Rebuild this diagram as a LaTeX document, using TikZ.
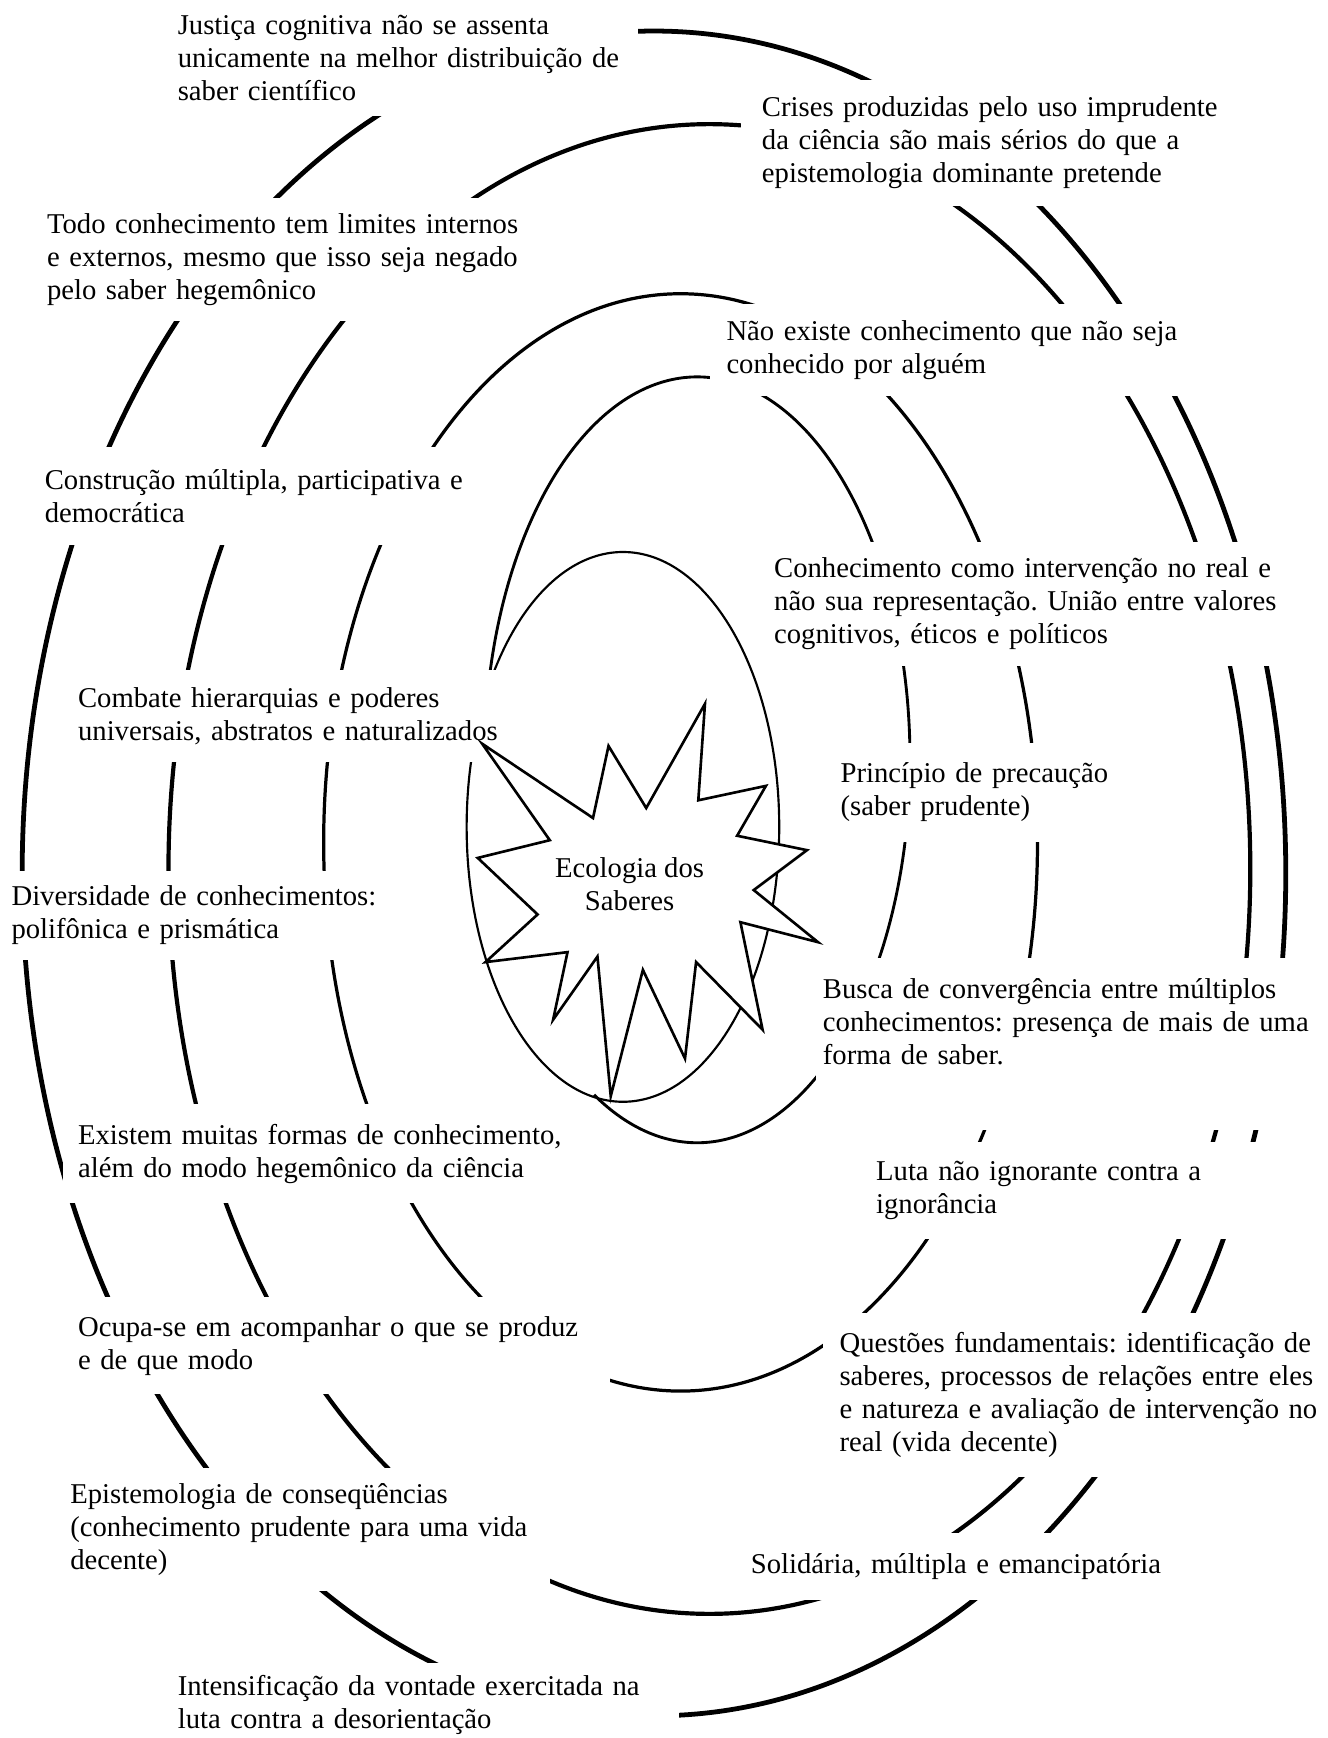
\documentclass[tikz,border=0pt]{standalone}
\usepackage{fontspec}
\setmainfont{Liberation Serif}
\frenchspacing
\begin{document}
\begin{tikzpicture}[x=0.4638pt,y=-0.4638pt,
  font=\fontsize{12}{13.8}\selectfont,
  ring/.style={line width=#1},
  txtbox/.style={fill=white, align=left, anchor=north west, inner ysep=0pt}]
\useasboundingbox (0,0) rectangle (1198,1568);

% define the rings
\draw[ring=2pt]    (590,788) ellipse [x radius=570, y radius=760];
\draw[ring=1.75pt] (640,784) ellipse [x radius=488, y radius=672];
\draw[ring=1.35pt] (614,760) ellipse [x radius=322, y radius=495];
\draw[ring=1.2pt]  plot[domain=-119:172, samples=150, smooth]
  ({629+192*cos(\x)},{685.5-345.5*sin(\x)});
\draw[ring=0.9pt]  (562,746) ellipse [x radius=141, y radius=248];

% define the text boxes
\node[txtbox, text width=187.8pt, inner xsep=4.64pt, minimum height=48.2pt] (justica) at (150,0)
  {Justiça cognitiva não se assenta\\unicamente na melhor distribuição de\\saber científico};
\node[txtbox, text width=199.4pt, inner xsep=8.81pt, minimum height=52.4pt] (crises) at (668,72)
  {Crises produzidas pelo uso imprudente\\da ciência são mais sérios do que a\\epistemologia dominante pretende};
\node[txtbox, text width=204.1pt, inner xsep=4.64pt, minimum height=51.5pt] (todo) at (32,178)
  {Todo conhecimento tem limites internos\\e externos, mesmo que isso seja negado\\pelo saber hegemônico};
\node[txtbox, text width=194.8pt, inner xsep=6.96pt, minimum height=38.5pt] (naoexiste) at (640,274)
  {Não existe conhecimento que não seja\\conhecido por alguém};
\node[txtbox, text width=183.2pt, inner xsep=4.64pt, minimum height=40.8pt] (construcao) at (30,403)
  {Construção múltipla, participativa e\\democrática};
\node[txtbox, text width=218pt, inner xsep=3.71pt, minimum height=51.5pt] (intervencao) at (690,489)
  {Conhecimento como intervenção no real e\\não sua representação. União entre valores\\cognitivos, éticos e políticos};
\node[txtbox, text width=176.2pt, inner xsep=4.64pt, minimum height=38.5pt] (combate) at (60,604)
  {Combate hierarquias e poderes\\universais, abstratos e naturalizados};
\node[txtbox, text width=120.6pt, inner xsep=3.71pt, minimum height=41.3pt] (precaucao) at (750,670)
  {Princípio de precaução\\(saber prudente)};
\node[txtbox, text width=162.3pt, inner xsep=4.64pt, minimum height=37.6pt] (diversidade) at (0,785)
  {Diversidade de conhecimentos:\\polifônica e prismática};
\node[txtbox, text width=204pt, inner xsep=2.78pt, minimum height=52.9pt] (busca) at (736,864)
  {Busca de convergência entre múltiplos\\conhecimentos: presença de mais de uma\\forma de saber.};
\fill[white] (busca.south west) rectangle ([yshift=-18.6pt]busca.south east);
\node[txtbox, text width=206.4pt, inner xsep=6.49pt, minimum height=41.3pt] (existem) at (56,996)
  {Existem muitas formas de conhecimento,\\além do modo hegemônico da ciência};
\node[txtbox, text width=162.3pt, inner xsep=4.64pt, minimum height=40.4pt] (luta) at (780,1030)
  {Luta não ignorante contra a\\ignorância};
\node[txtbox, text width=218pt, inner xsep=4.64pt, minimum height=40.4pt] (ocupa) at (60,1170)
  {Ocupa-se em acompanhar o que se produz\\e de que modo};
\node[txtbox, text width=208.7pt, inner xsep=6.96pt, minimum height=68.6pt] (questoes) at (742,1184)
  {Questões fundamentais: identificação de\\saberes, processos de relações entre eles\\e natureza e avaliação de intervenção no\\real (vida decente)};
\node[txtbox, text width=197.1pt, inner xsep=3.71pt, minimum height=51.5pt] (consequencias) at (55,1324)
  {Epistemologia de conseqüências\\(conhecimento prudente para uma vida\\decente)};
\node[txtbox, text width=176.2pt, inner xsep=3.25pt, minimum height=27.8pt] (solidaria) at (670,1383)
  {Solidária, múltipla e emancipatória};
\node[txtbox, text width=205pt, inner xsep=4.64pt, minimum height=34.8pt] (vontade) at (150,1500)
  {Intensificação da vontade exercitada na\\luta contra a desorientação};

% define the star
\draw[line width=1.1pt, fill=white] (435,671) -- (535,738) -- (549,673) -- (583,729)
  -- (636,635) -- (630,722) -- (691,709) -- (665,754) -- (728,767) -- (680,803)
  -- (738,850) -- (668,832) -- (688,929) -- (628,868) -- (618,955) -- (580,875)
  -- (551,989) -- (539,863) -- (499,920) -- (512,859) -- (438,868) -- (485,825)
  -- (431,774) -- (496,758) -- cycle;
\node[align=center] (ecologia) at (568,798) {Ecologia dos\\Saberes};

\end{tikzpicture}
\end{document}
